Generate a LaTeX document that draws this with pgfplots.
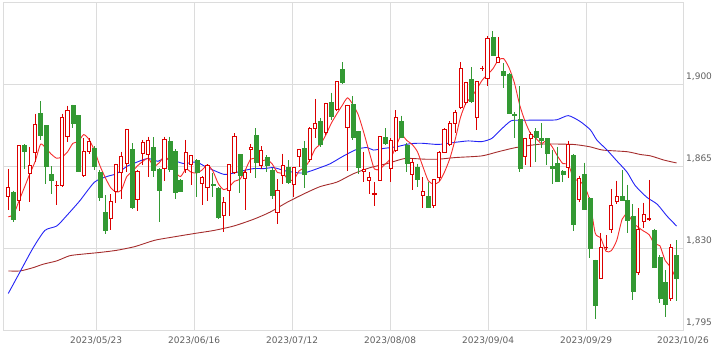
\documentclass[border=0pt]{standalone}
\usepackage{pgfplots}
\pgfplotsset{compat=1.18}
\usepackage{pgfplotstable}
\usepackage{fontspec}
\setmainfont{DejaVu Sans}
\definecolor{upred}{RGB}{220,0,0}
\definecolor{downgreen}{RGB}{51,153,51}
\definecolor{maA}{RGB}{245,45,45}
\definecolor{maB}{RGB}{35,35,245}
\definecolor{maC}{RGB}{165,45,45}
\definecolor{gridgray}{RGB}{220,220,220}
\definecolor{labelgray}{RGB}{95,95,95}
\pgfdeclareplotmark{nothing}{}

\pgfplotstableread{
i o h l c
0 1851.9 1863.8 1846.1 1855.9
2 1850.2 1873.9 1845.8 1873.9
4 1861.7 1873.2 1849.7 1865.0
5 1870.8 1887.3 1866.7 1882.6
9 1856.5 1858.8 1848.3 1856.7
10 1856.7 1887.3 1856.2 1885.5
11 1877.5 1890.8 1875.4 1888.8
14 1861.0 1876.8 1860.3 1871.3
15 1871.3 1876.8 1870.3 1875.4
19 1842.5 1853.0 1837.5 1849.7
20 1854.2 1866.0 1849.0 1865.7
21 1862.4 1871.1 1850.9 1868.9
22 1866.0 1880.9 1862.4 1880.7
24 1850.8 1863.5 1846.0 1862.5
25 1870.4 1876.1 1865.3 1875.1
26 1869.9 1877.5 1860.3 1875.8
29 1863.9 1877.5 1858.8 1876.4
33 1863.4 1876.1 1862.0 1870.6
34 1865.7 1869.6 1856.9 1869.3
36 1857.7 1860.6 1848.3 1860.0
37 1855.9 1865.7 1850.2 1865.2
40 1844.0 1851.6 1837.0 1849.5
41 1854.5 1865.8 1843.7 1865.6
42 1862.4 1878.9 1861.7 1877.5
44 1859.5 1863.1 1846.1 1862.4
45 1871.9 1874.4 1862.0 1872.9
47 1865.3 1873.5 1863.9 1871.8
50 1845.1 1859.5 1840.1 1854.5
51 1861.0 1870.3 1857.4 1865.3
53 1856.9 1864.6 1851.6 1864.3
54 1868.9 1872.4 1864.6 1872.1
56 1867.8 1881.5 1866.7 1881.1
57 1880.8 1893.7 1877.0 1883.0
59 1879.3 1892.0 1878.3 1891.7
61 1889.3 1901.2 1888.3 1901.0
63 1881.4 1891.2 1862.8 1890.8
66 1862.7 1871.0 1858.1 1863.6
67 1858.8 1862.4 1853.0 1860.0
68 1853.0 1858.1 1848.0 1853.1
69 1858.8 1877.8 1858.5 1877.5
71 1863.8 1876.8 1858.1 1875.7
72 1871.8 1888.7 1871.0 1885.8
75 1861.3 1868.2 1854.9 1866.5
77 1852.3 1860.3 1846.9 1854.1
79 1848.0 1859.5 1846.9 1859.1
80 1860.3 1871.2 1858.8 1870.8
81 1870.8 1881.1 1870.4 1880.7
82 1874.2 1884.0 1873.6 1883.3
83 1883.3 1889.0 1879.0 1888.0
84 1889.8 1909.2 1889.5 1906.8
85 1892.0 1901.0 1891.2 1900.6
87 1885.5 1901.3 1880.4 1901.0
88 1906.5 1907.8 1905.6 1906.8
89 1902.3 1920.3 1899.1 1919.3
91 1909.2 1920.1 1908.8 1911.4
96 1868.9 1877.1 1865.3 1876.8
97 1876.8 1879.7 1864.6 1878.5
104 1864.2 1875.8 1860.0 1874.2
106 1850.8 1860.9 1849.5 1859.5
110 1817.0 1836.5 1816.8 1830.4
111 1830.2 1835.4 1829.2 1830.4
112 1837.9 1855.2 1836.5 1848.3
113 1849.7 1858.8 1848.7 1852.0
117 1819.6 1847.0 1818.5 1838.0
118 1841.5 1849.4 1838.4 1844.1
119 1842.3 1859.1 1841.5 1842.5
123 1808.4 1831.7 1807.3 1830.3
}\upcandles

\pgfplotstableread{
i o h l c
1 1854.0 1854.5 1841.1 1842.2
3 1873.9 1874.2 1863.8 1871.5
6 1887.6 1892.6 1876.1 1878.3
7 1882.2 1882.5 1857.4 1864.9
8 1861.4 1864.9 1853.0 1859.1
12 1890.8 1891.2 1881.1 1883.3
13 1886.5 1886.8 1862.4 1862.9
16 1872.5 1873.5 1863.1 1864.9
17 1862.4 1863.1 1850.2 1851.6
18 1845.4 1852.6 1836.1 1837.5
23 1872.1 1874.7 1846.6 1847.6
27 1872.9 1877.2 1860.3 1863.4
28 1863.6 1864.0 1841.1 1854.8
30 1875.7 1877.5 1862.4 1863.6
31 1871.4 1872.1 1850.9 1853.8
32 1859.1 1859.5 1853.8 1854.1
35 1867.5 1867.8 1851.6 1862.4
38 1857.2 1862.0 1851.6 1856.9
39 1855.5 1855.9 1842.3 1843.0
43 1869.9 1870.3 1853.4 1861.0
46 1878.3 1881.1 1860.0 1866.8
48 1868.9 1869.6 1862.4 1865.3
49 1863.1 1864.0 1851.0 1852.6
52 1864.3 1867.5 1857.4 1858.1
55 1872.5 1875.7 1855.6 1861.7
58 1884.0 1885.5 1873.2 1874.3
60 1892.4 1896.3 1884.7 1886.2
62 1906.4 1909.2 1899.9 1900.6
64 1891.2 1894.8 1876.1 1877.2
65 1879.7 1880.0 1861.7 1864.6
70 1877.2 1881.1 1874.0 1874.9
73 1884.3 1886.5 1876.8 1877.2
74 1874.0 1875.0 1862.4 1866.0
76 1864.3 1866.0 1855.9 1859.5
78 1851.9 1858.1 1847.0 1847.3
86 1902.0 1907.1 1892.0 1892.7
90 1920.0 1922.6 1912.0 1912.5
92 1905.3 1908.8 1898.4 1903.9
93 1904.2 1904.9 1887.2 1887.6
94 1887.1 1888.0 1876.8 1886.8
95 1885.0 1899.1 1862.4 1864.2
98 1880.0 1881.1 1866.7 1877.5
99 1876.8 1883.3 1872.5 1875.8
100 1876.8 1877.0 1865.3 1870.3
101 1864.9 1871.8 1857.4 1863.9
102 1866.0 1873.2 1858.0 1858.5
103 1862.9 1863.2 1858.0 1861.4
105 1869.6 1870.2 1837.2 1840.1
107 1861.4 1866.4 1846.2 1846.6
108 1851.2 1851.6 1825.7 1830.0
109 1824.7 1825.0 1799.5 1805.5
114 1852.3 1863.3 1850.2 1850.4
115 1850.2 1857.0 1836.2 1842.0
116 1843.7 1848.7 1807.7 1811.7
120 1837.6 1838.3 1821.7 1822.0
121 1826.1 1827.0 1806.5 1808.4
122 1815.6 1820.6 1800.5 1806.2
124 1826.8 1833.2 1807.3 1817.0
}\downcandles

\pgfplotsset{
  candle/.style={
    scatter, only marks, mark=nothing,
    visualization depends on={\thisrow{h}-\thisrow{c} \as \candH},
    visualization depends on={\thisrow{l}-\thisrow{c} \as \candL},
    visualization depends on={\thisrow{o}-\thisrow{c} \as \candO},
    scatter/@post marker code/.code={},
  },
}

\begin{document}
\begin{tikzpicture}
\useasboundingbox (0,0) rectangle (724pt,352pt);
\begin{axis}[
  at={(3.5pt,22pt)}, anchor=south west,
  scale only axis, width=679.5pt, height=328pt,
  xmin=-0.89, xmax=125.3, ymin=1795, ymax=1935,
  axis line style={draw=gridgray, line width=0.8pt},
  major tick length=0pt,
  xmajorgrids, ymajorgrids,
  major grid style={draw=gridgray, line width=0.8pt},
  xtick={16.3,34.5,52.7,70.9,89.1,107.3,125.3},
  xticklabels={2023/05/23,2023/06/16,2023/07/12,2023/08/08,2023/09/04,2023/09/29,2023/10/26},
  ytick={1795,1830,1865,1900},
  yticklabels={{1,795},{1,830},{1,865},{1,900}},
  ytick pos=right, yticklabel pos=right,
  tick label style={font=\fontsize{9}{11}\selectfont, text=labelgray},
  xticklabel style={anchor=base, yshift=-13.5pt, inner sep=0pt},
  yticklabel style={anchor=base west, xshift=3pt, yshift=4pt, inner sep=0pt},
  /pgf/number format/assume math mode=true,
]
\addplot[candle,
  scatter/@pre marker code/.code={
    \draw[downgreen, line width=1pt] (axis direction cs:0,\candH) -- (axis direction cs:0,\candL);
    \fill[downgreen] (axis direction cs:-0.37,0) rectangle (axis direction cs:0.37,\candO);
  }] table[x=i, y=c] {\downcandles};
\addplot[candle,
  scatter/@pre marker code/.code={
    \draw[upred, line width=1pt] (axis direction cs:0,\candH) -- (axis direction cs:0,\candL);
    \filldraw[draw=upred, fill=white, line width=1pt] (axis direction cs:-0.29,0) rectangle (axis direction cs:0.29,\candO);
  }] table[x=i, y=c] {\upcandles};

% 75-day moving average
\addplot[maC, line width=0.9pt, smooth, tension=0.4] coordinates {
(0,1820.2)(2.2,1820.2)(4.6,1821.6)(6.5,1823.1)(9,1824.5)(11.4,1826.7)(13.9,1827.4)(17,1828.1)(20.1,1829.0)(23.5,1830.6)(27.2,1833.3)(30.9,1834.8)(34.6,1836.2)(38.2,1837.5)(41.9,1839.4)(45.6,1842.3)(48.6,1845.3)(51.7,1849.4)(54.8,1853.0)(57.9,1856.2)(61,1858.1)(64.1,1861.7)(67.2,1864.3)(70.3,1866.0)(73.7,1868.2)(77.4,1867.9)(79.9,1867.9)(83,1868.6)(87.9,1869.3)(91,1871.1)(94.1,1872.8)(97.2,1873.9)(99.6,1874.4)(104.9,1874.2)(108,1873.2)(110.4,1871.8)(114.9,1871.1)(117.4,1869.9)(119.3,1869.3)(121.8,1867.5)(124.1,1866.3)
};
% 25-day moving average
\addplot[maB, line width=0.9pt, smooth, tension=0.4] coordinates {
(0,1810.6)(2.2,1819.9)(4.6,1830.0)(6.8,1837.5)(9,1839.4)(10.8,1843.7)(13.3,1850.2)(16,1858.1)(18.3,1860.5)(20.1,1861.7)(22,1864.8)(23.5,1866.3)(25.9,1868.2)(27.8,1867.0)(28.9,1868.2)(30.9,1867.2)(32.7,1866.0)(34.9,1866.7)(36.7,1864.6)(38.2,1863.1)(40.1,1861.4)(41.9,1862.0)(43.8,1863.1)(45.6,1863.9)(47.5,1863.9)(49.3,1864.3)(51.7,1862.8)(54.8,1862.0)(57.9,1864.3)(59.8,1866.0)(62.2,1869.2)(64.7,1872.1)(66.6,1872.9)(67.8,1871.8)(69.7,1872.5)(72.1,1873.2)(74.6,1874.5)(76.8,1874.7)(79.9,1874.2)(83,1875.1)(85.4,1875.7)(87.9,1875.4)(89.8,1876.8)(91.6,1880.8)(93.4,1884.3)(95.3,1884.5)(98.7,1884.6)(101.8,1884.7)(104,1886.5)(106.2,1884.0)(108.1,1880.4)(109.3,1876.1)(111.2,1871.8)(113,1867.2)(114.9,1862.4)(116.4,1856.7)(118.6,1851.6)(120.5,1848.7)(122.3,1843.7)(124.1,1839.4)
};
% 5-day moving average
\addplot[maA, line width=0.9pt, smooth, tension=0.4] coordinates {
(0,1843.3)(1,1844.4)(2,1850.2)(3,1855.9)(4,1861.7)(5,1867.0)(6,1874.3)(7,1872.5)(8,1870.0)(9,1868.3)(10,1868.9)(11,1871.0)(12,1874.7)(13,1875.4)(14,1878.4)(15,1876.3)(16,1871.6)(17,1865.2)(18,1860.1)(19,1855.8)(20,1853.9)(21,1854.7)(22,1860.5)(23,1862.5)(24,1865.1)(25,1867.0)(26,1868.3)(27,1864.9)(28,1866.3)(29,1869.1)(30,1866.8)(31,1862.4)(32,1860.5)(33,1863.7)(34,1862.3)(35,1862.0)(36,1863.3)(37,1865.5)(38,1862.8)(39,1857.5)(40,1854.9)(41,1856.0)(42,1858.5)(43,1859.3)(44,1863.2)(45,1867.9)(46,1868.1)(47,1867.0)(48,1867.8)(49,1865.9)(50,1862.2)(51,1861.9)(52,1859.2)(53,1859.0)(54,1862.9)(55,1864.3)(56,1867.5)(57,1872.4)(58,1874.4)(59,1878.4)(60,1883.3)(61,1887.2)(62,1890.8)(63,1894.1)(64,1891.2)(65,1886.8)(66,1879.4)(67,1871.2)(68,1863.7)(69,1863.8)(70,1865.8)(71,1868.2)(72,1873.4)(73,1878.2)(74,1875.9)(75,1874.2)(76,1871.0)(77,1864.7)(78,1858.7)(79,1857.3)(80,1858.2)(81,1862.4)(82,1868.2)(83,1876.4)(84,1885.9)(85,1891.9)(86,1894.3)(87,1897.8)(88,1901.6)(89,1904.1)(90,1906.5)(91,1910.2)(92,1910.8)(93,1906.9)(94,1900.4)(95,1890.8)(96,1883.9)(97,1878.8)(98,1876.8)(99,1874.6)(100,1875.8)(101,1873.2)(102,1869.2)(103,1866.0)(104,1865.7)(105,1859.6)(106,1858.7)(107,1856.4)(108,1850.1)(109,1836.3)(110,1834.4)(111,1828.6)(112,1828.9)(113,1833.3)(114,1842.3)(115,1844.6)(116,1840.9)(117,1838.8)(118,1837.2)(119,1835.7)(120,1831.7)(121,1831.0)(122,1824.6)(123,1821.9)(124,1816.8)
};
\end{axis}
\end{tikzpicture}
\end{document}
